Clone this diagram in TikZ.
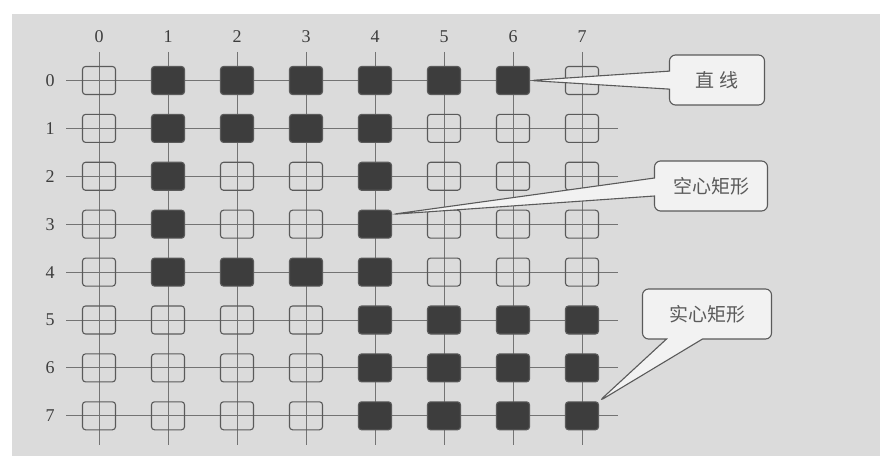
\documentclass[tikz,border=0pt]{standalone}
\usepackage{fontspec}
\setmainfont{Liberation Serif}
\newfontfamily\cjk{Noto Sans CJK SC}
\usepackage{tikz}
\usetikzlibrary{shapes.callouts}
\definecolor{paper}{gray}{0.86}
\definecolor{boxfill}{gray}{0.95}
\definecolor{ink}{gray}{0.24}
\definecolor{rule}{gray}{0.45}
\tikzset{
  gridline/.style={rule, line width=0.9pt},
  cell0/.style={draw=ink!85, line width=1.1pt, rounded corners=3pt, minimum width=33pt, minimum height=28pt, inner sep=0pt},
  cell1/.style={cell0, fill=ink},
  numlabel/.style={font=\fontsize{18}{20}\selectfont, text=ink},
  tagbox/.style={rectangle callout, draw=ink!85, line width=1.1pt, rounded corners=6pt, fill=boxfill, minimum height=50pt, callout pointer width=18pt, font=\cjk\fontsize{19}{22}\selectfont, text=ink!85}
}

\begin{document}
\begin{tikzpicture}[x=1pt, y=-1pt]
  \fill[white] (0,0) rectangle (880,470);
  \fill[paper] (12,14) rectangle (880,456);
  \useasboundingbox (0,0) rectangle (880,470);
  \foreach \i in {0,...,7} {
    \draw[gridline] (99+69*\i, 52) -- (99+69*\i, 445);
    \draw[gridline] (66, 80.5+47.9*\i) -- (618, 80.5+47.9*\i);
    \node[numlabel] (col\i) at (99+69*\i, 37) {\i};
    \node[numlabel] (row\i) at (50, 80.5+47.9*\i) {\i};
  }
  \foreach \r/\pat in {0/{0,1,1,1,1,1,1,0}, 1/{0,1,1,1,1,0,0,0}, 2/{0,1,0,0,1,0,0,0}, 3/{0,1,0,0,1,0,0,0},
                       4/{0,1,1,1,1,0,0,0}, 5/{0,0,0,0,1,1,1,1}, 6/{0,0,0,0,1,1,1,1}, 7/{0,0,0,0,1,1,1,1}}
    \foreach \v [count=\c from 0] in \pat
      \node[cell\v] (c\r\c) at (99+69*\c, 80.5+47.9*\r) {};
  \node[tagbox, minimum width=95pt, callout absolute pointer={(c06.east)}] (linetag) at (717,80) {直 线};
  \node[tagbox, minimum width=113pt, callout absolute pointer={(c34.30)}] (hollowtag) at (711,186) {空心矩形};
  \node[tagbox, minimum width=129pt, callout pointer width=36pt, callout absolute pointer={(c77.north east)}] (solidtag) at (707,314) {实心矩形};
\end{tikzpicture}
\end{document}
